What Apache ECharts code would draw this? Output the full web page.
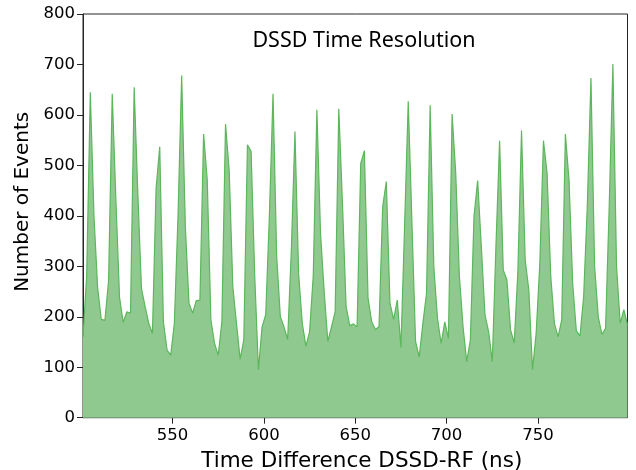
<!DOCTYPE html>
<html>
<head>
<meta charset="utf-8">
<script src="https://cdn.jsdelivr.net/npm/echarts@6/dist/echarts.min.js"></script>
<style>html,body{margin:0;padding:0;background:#fff}#c{width:636px;height:470px}</style>
</head>
<body>
<div id="c"></div>
<script>
// time bins (ns): 2 ns wide, starting at 501
const binStart = 501;
const binWidth = 2;
const counts = [
 160,280,645,400,258,195,193,272,642,432,
 238,189,210,207,655,445,256,220,187,167,
 455,537,190,134,124,187,400,678,380,227,
 207,232,233,562,471,194,147,124,190,582,
 491,260,187,116,154,541,528,280,95,180,
 204,400,642,320,200,180,155,330,567,285,
 187,142,170,280,610,365,250,151,180,210,
 612,425,220,182,186,180,504,529,237,190,
 175,180,418,468,227,195,233,139,380,627,
 390,151,120,187,246,619,299,197,147,190,
 157,602,484,280,180,111,154,400,470,339,
 204,170,111,340,549,293,273,174,148,290,
 569,313,253,95,167,305,549,484,280,187,
 160,194,562,471,266,172,162,240,420,673,
 300,200,165,177,420,701,300,187,214,184
];
const xTicks = [550, 600, 650, 700, 750];
const yTicks = [0, 100, 200, 300, 400, 500, 600, 700, 800];

const times = counts.map((_, i) => binStart + i * binWidth);
const data = times.map((t, i) => [t, counts[i]]);

const chart = echarts.init(document.getElementById('c'), null, {renderer: 'canvas'});
const axisCol = '#262626';
const font = 'DejaVu Sans';
chart.setOption({
  animation: false,
  title: {
    text: 'DSSD Time Resolution',
    left: 359, top: 25, textAlign: 'center',
    textStyle: {fontFamily: 'Noto Sans', fontSize: 21.5, fontWeight: 'normal', color: '#000'}
  },
  grid: {left: 83, right: 8.5, top: 14, bottom: 52.3, show: true, borderColor: axisCol, borderWidth: 1,
         backgroundColor: 'transparent', containLabel: false, outerBoundsMode: 'none'},
  xAxis: {
    type: 'value', min: times[0], max: times[times.length - 1],
    name: 'Time Difference DSSD-RF (ns)', nameLocation: 'middle', nameGap: 33,
    nameTextStyle: {fontFamily: font, fontSize: 21.5, color: '#000', padding: [0, 0, 0, 13]},
    axisLine: {show: true, lineStyle: {color: axisCol, width: 1}},
    axisTick: {show: true, inside: false, length: 6, customValues: xTicks, lineStyle: {color: axisCol}},
    axisLabel: {customValues: xTicks, fontFamily: font, fontSize: 16.5, color: '#000', margin: 10},
    splitLine: {show: false}
  },
  yAxis: {
    type: 'value', min: yTicks[0], max: yTicks[yTicks.length - 1], interval: 100,
    name: 'Number of Events', nameLocation: 'middle', nameGap: 50,
    nameTextStyle: {fontFamily: font, fontSize: 20, color: '#000', padding: [0, 0, 0, 28]},
    axisLine: {show: true, lineStyle: {color: axisCol, width: 1}},
    axisTick: {show: true, length: 6, lineStyle: {color: axisCol}},
    axisLabel: {fontFamily: font, fontSize: 16.5, color: '#000', margin: 8},
    splitLine: {show: false}
  },
  series: [{
    type: 'line', data: data, symbol: 'none', smooth: false,
    lineStyle: {color: '#5cb65c', width: 1.2},
    areaStyle: {color: '#8fc98f', opacity: 1}
  }]
});
</script>
</body>
</html>
